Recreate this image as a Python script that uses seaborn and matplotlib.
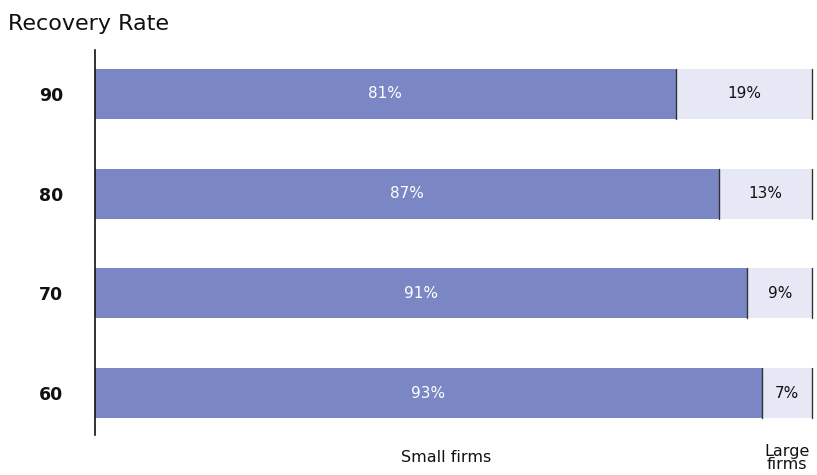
import matplotlib
matplotlib.use("Agg")
import matplotlib.pyplot as plt
import seaborn as sns
import pandas as pd

categories = ["90", "80", "70", "60"]
small_firms = [81, 87, 91, 93]
large_firms = [19, 13, 9, 7]
series_names = ["Small firms", "Large\nfirms"]
title = "Recovery Rate"

sns.set_theme(style="white")
plt.rcParams["font.family"] = ["DejaVu Sans"]

fig = plt.figure(figsize=(8.17, 4.75), dpi=100)
ax = fig.add_axes([95/817, 1-435/475, (812-95)/817, (435-50)/475])

totals = [s + l for s, l in zip(small_firms, large_firms)]
df = pd.DataFrame({"cat": categories, "small": small_firms, "large": large_firms, "total": totals})

sns.barplot(data=df, x="total", y="cat", orient="h", color="#E6E8F5",
            width=0.5, saturation=1, ax=ax)
sns.barplot(data=df, x="small", y="cat", orient="h", color="#7B86C5",
            width=0.5, saturation=1, ax=ax)

for p in ax.patches:
    p.set_edgecolor("none")
    x0, y0 = p.get_x(), p.get_y()
    w, h = p.get_width(), p.get_height()
    ax.plot([x0 + w, x0 + w], [y0, y0 + h], color="#333333", lw=1.0, zorder=3,
            clip_on=False)

for i, (s, l) in enumerate(zip(small_firms, large_firms)):
    ax.text(s / 2, i, f"{s}%", ha="center", va="center", color="white", fontsize=11)
    ax.text(s + l / 2, i, f"{l}%", ha="center", va="center", color="#111111", fontsize=11)

ax.set_xlim(0, 100)
ax.set_ylim(3.42, -0.44)
ax.set_xlabel("")
ax.set_ylabel("")
ax.set_xticks([])
for lbl in ax.get_yticklabels():
    lbl.set_fontweight("bold")
    lbl.set_fontsize(12.5)
    lbl.set_color("#111111")
ax.tick_params(axis="y", length=0, pad=23)

for sp in ["top", "right", "bottom"]:
    ax.spines[sp].set_visible(False)
ax.spines["left"].set_color("#111111")
ax.spines["left"].set_linewidth(1.2)

ax.text(49, 3.65, series_names[0], ha="center", va="center", fontsize=11.5,
        color="#111111", clip_on=False)
ax.text(small_firms[-1] + large_firms[-1] / 2, 3.65, series_names[1], ha="center",
        va="center", fontsize=11.5, color="#111111", linespacing=0.85, clip_on=False)

fig.text(8/817, 1-24/475, title, ha="left", va="center", fontsize=16, color="#111111")

fig.savefig("out.png", dpi=100)
